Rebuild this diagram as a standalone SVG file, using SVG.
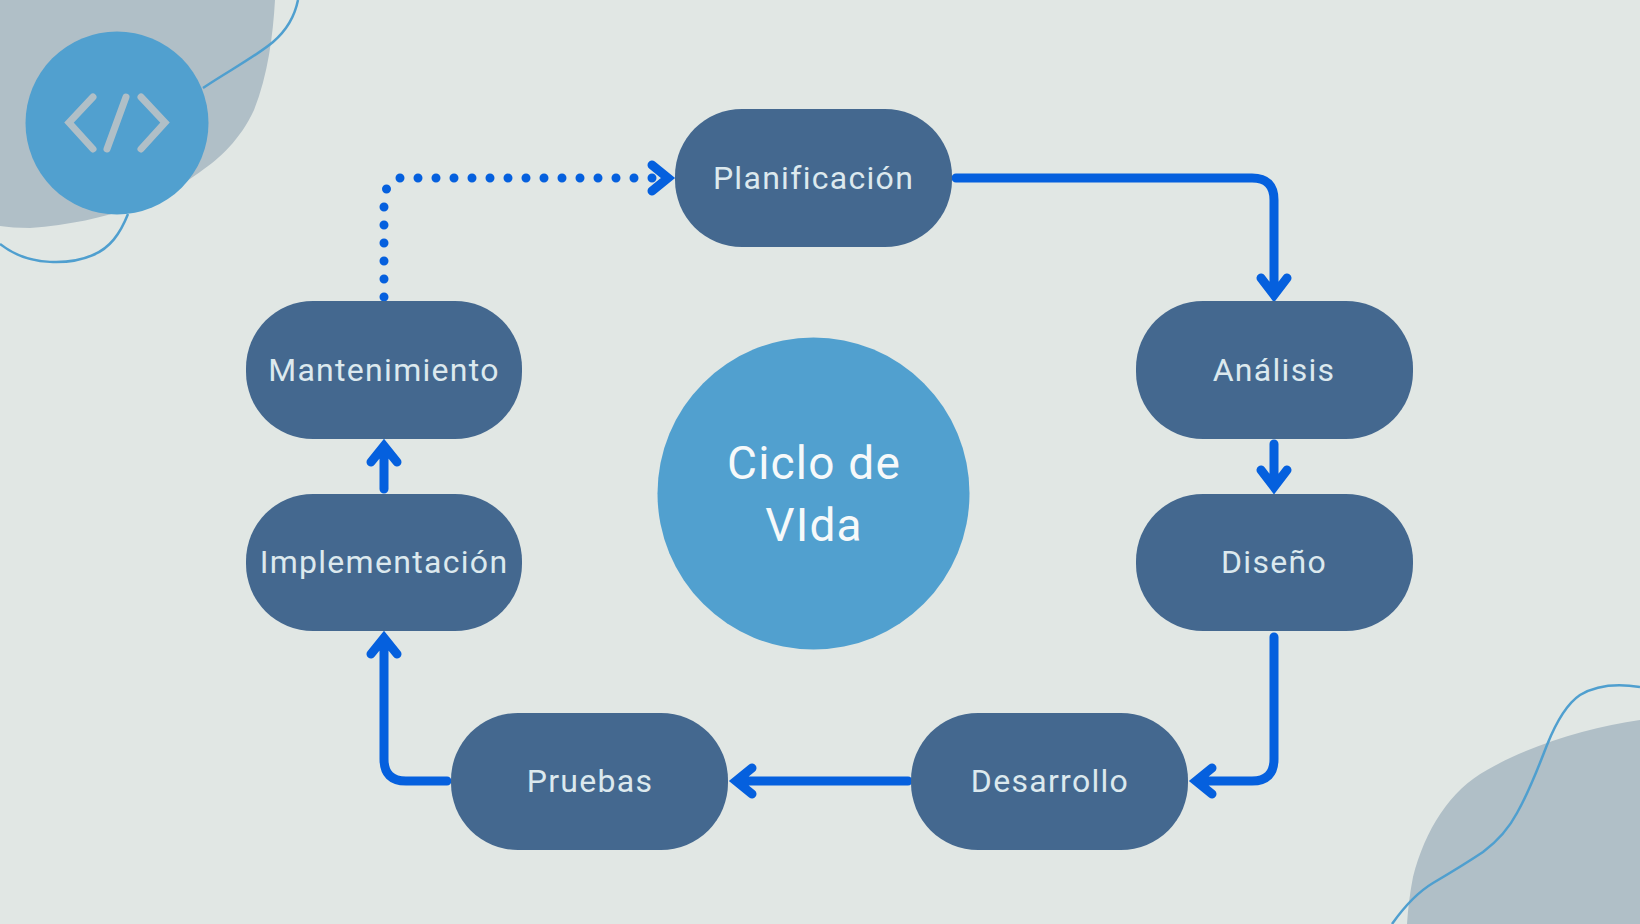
<svg xmlns="http://www.w3.org/2000/svg" width="1640" height="924" viewBox="0 0 1640 924">
<style>
.n{fill:#44688f}
.t{font-family:Roboto,"Noto Sans",sans-serif;font-size:32px;letter-spacing:1.3px;fill:#dce9ee;text-anchor:middle}
.h{font-family:Roboto,"Noto Sans",sans-serif;font-size:46px;letter-spacing:1.2px;fill:#f6f9fa;text-anchor:middle}
.c{fill:none;stroke:#0560de;stroke-width:9;stroke-linecap:round;stroke-linejoin:miter}
.d{fill:none;stroke:#0560de;stroke-width:9;stroke-linecap:round;stroke-dasharray:0 18}
.w{fill:none;stroke:#4f9fcf;stroke-width:2.500}
.b{fill:#b0bfc7}
</style>
<rect width="1640" height="924" fill="#e1e7e4"/>
<g id="decor">
<path class="b" d="M0 0H275C273 35 268 75 254 110C240 140 220 158 200 172C165 198 110 222 30 228C18 228 8 227 0 226Z"/>
<path class="w" d="M298 0C295 15 287 30 273 42C255 57 230 70 203 88"/>
<path class="w" d="M128 214C120 234 110 248 93 255C72 264 30 268 0 244"/>
<path class="b" d="M1640 720C1590 727 1530 745 1487 770C1450 790 1425 830 1413 877C1410 892 1408 908 1407 924H1640Z"/>
<path class="w" d="M1640 687C1615 683 1595 686 1580 695C1565 705 1555 725 1547 745C1538 768 1530 790 1517 813C1507 832 1495 843 1483 852C1465 864 1450 873 1433 883C1418 892 1404 907 1392 924"/>
</g>
<g id="connectors">
<path class="c" d="M956 178H1252Q1274 178 1274 200V295M1261 278L1274 295L1287 278"/>
<path class="c" d="M1274 444V487M1261 470L1274 487L1287 470"/>
<path class="c" d="M1274 637V759Q1274 781 1252 781H1196M1212 768L1196 781L1212 794"/>
<path class="c" d="M908 781H736M752 768L736 781L752 794"/>
<path class="c" d="M447 781H406Q384 781 384 759V638M371 654L384 638L397 654"/>
<path class="c" d="M384 489V446M371 462L384 446L397 462"/>
<path class="d" d="M384 297V206M386.500 189h.01M400 178H653"/>
<path class="c" d="M652 165L668 178L652 191"/>
</g>
<g id="planificacion"><rect class="n" x="675" y="109" width="277" height="138" rx="67"/><text class="t" x="813.500" y="189">Planificación</text></g>
<g id="analisis"><rect class="n" x="1136" y="301" width="277" height="138" rx="67"/><text class="t" x="1274" y="381">Análisis</text></g>
<g id="diseno"><rect class="n" x="1136" y="494" width="277" height="137" rx="67"/><text class="t" x="1274" y="573">Diseño</text></g>
<g id="desarrollo"><rect class="n" x="911" y="713" width="277" height="137" rx="67"/><text class="t" x="1050" y="792">Desarrollo</text></g>
<g id="pruebas"><rect class="n" x="451" y="713" width="277" height="137" rx="67"/><text class="t" x="590" y="792">Pruebas</text></g>
<g id="implementacion"><rect class="n" x="246" y="494" width="276" height="137" rx="67"/><text class="t" x="384" y="573">Implementación</text></g>
<g id="mantenimiento"><rect class="n" x="246" y="301" width="276" height="138" rx="67"/><text class="t" x="384" y="381">Mantenimiento</text></g>
<g id="centro"><circle cx="813.500" cy="493.500" r="156" fill="#51a0cf"/><text class="h" x="814" y="479">Ciclo de</text><text class="h" x="814" y="541">VIda</text></g>
<g id="icono"><circle cx="117" cy="123" r="91.500" fill="#51a0cf"/><path d="M93 97L69 122.500L93 149M141 97L165 122.500L141 149M126 97L107 149" fill="none" stroke="#b0bfc7" stroke-width="7" stroke-linecap="round" stroke-linejoin="miter"/></g>
</svg>
